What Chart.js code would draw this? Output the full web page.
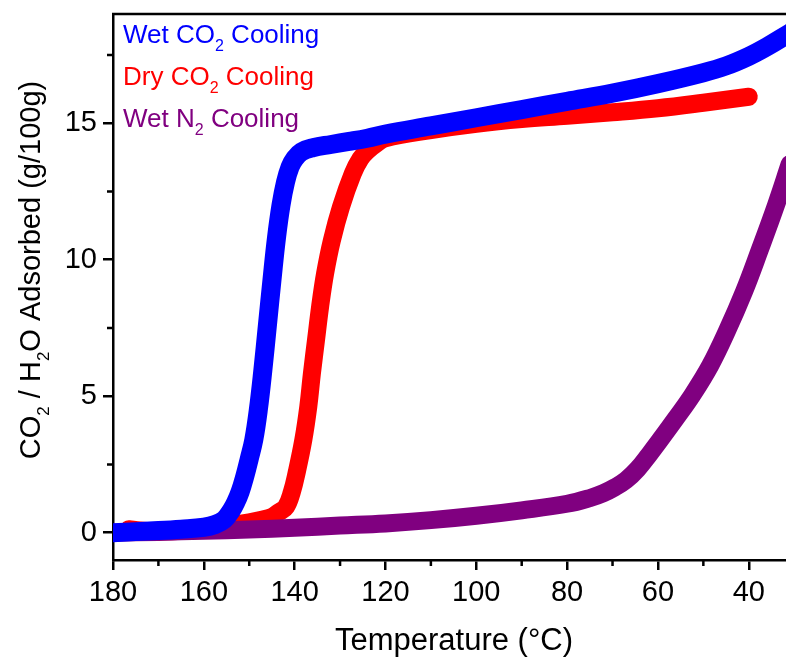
<!DOCTYPE html>
<html>
<head>
<meta charset="utf-8">
<script src="https://cdn.jsdelivr.net/npm/chart.js@4.4.1/dist/chart.umd.min.js"></script>
<style>
html, body { margin: 0; padding: 0; background: #fff; }
#wrap { width: 786px; height: 658px; position: relative; }
</style>
</head>
<body>
<div id="wrap"><canvas id="adsorb"></canvas></div>
<script>
// cooling runs, temperature (C) vs uptake (g/100g)
const wetCo2Temp = [180, 170, 165, 160, 157.5, 155.5, 154, 153, 152, 151, 150, 149, 148, 147, 146, 145, 144, 143, 142, 141, 140, 138.5, 136, 132, 128, 124, 120, 110, 100, 90, 80, 70, 60, 50, 45, 40, 36, 31];
const wetCo2Val  = [0.0, 0.08, 0.13, 0.2, 0.3, 0.48, 0.8, 1.1, 1.5, 2.05, 2.7, 3.4, 4.5, 5.95, 7.6, 9.25, 10.8, 12.0, 12.85, 13.4, 13.7, 13.95, 14.1, 14.22, 14.33, 14.45, 14.6, 14.9, 15.2, 15.5, 15.8, 16.1, 16.45, 16.85, 17.1, 17.45, 17.8, 18.3];

const dryCo2Temp = [176.5, 174, 170, 160, 155, 150, 147, 145, 143.5, 141.9, 140.6, 139.6, 138.1, 137, 136.2, 135.3, 134.4, 133.3, 131.8, 129.8, 127.2, 125.5, 123.9, 122, 120, 110, 100, 90, 80, 70, 60, 50, 40];
const dryCo2Val  = [0.13, 0.08, 0.05, 0.12, 0.25, 0.38, 0.48, 0.58, 0.75, 0.95, 1.5, 2.17, 3.39, 4.61, 5.83, 7.05, 8.27, 9.49, 10.71, 11.93, 13.15, 13.7, 14.0, 14.25, 14.45, 14.75, 14.98, 15.15, 15.27, 15.4, 15.55, 15.75, 15.97];

const wetN2Temp = [180, 170, 160, 150, 140, 130, 120, 110, 100, 90, 80, 75, 72, 69.5, 67, 64.5, 62, 59.6, 56, 52.4, 48.5, 44.9, 41, 37.6, 34, 31];
const wetN2Val  = [0.0, 0.03, 0.07, 0.12, 0.18, 0.26, 0.34, 0.46, 0.62, 0.82, 1.06, 1.27, 1.45, 1.66, 1.93, 2.33, 2.85, 3.38, 4.2, 5.05, 6.12, 7.35, 8.85, 10.35, 12.0, 13.5];

const xTicks = [180, 160, 140, 120, 100, 80, 60, 40];
const xMinor = [170, 150, 130, 110, 90, 70, 50];
const yTicks = [0, 5, 10, 15];
const yMinor = [2.5, 7.5, 12.5, 17.5];

const FONT = '"Liberation Sans", Arial, sans-serif';

function pts(t, v) {
  return t.map((x, i) => ({ x: x, y: v[i] }));
}

// draw text pieces, some as subscripts; parts = [[text, isSub], ...]
function richText(ctx, parts, x, y, size, align) {
  const subSize = Math.round(size * 0.6);
  let total = 0;
  const widths = parts.map(p => {
    ctx.font = (p[1] ? subSize : size) + 'px ' + FONT;
    const w = ctx.measureText(p[0]).width;
    total += w;
    return w;
  });
  let cx = align === 'center' ? x - total / 2 : x;
  ctx.textAlign = 'left';
  ctx.textBaseline = 'alphabetic';
  parts.forEach((p, i) => {
    ctx.font = (p[1] ? subSize : size) + 'px ' + FONT;
    ctx.fillText(p[0], cx, p[1] ? y + size * 0.3 : y);
    cx += widths[i];
  });
}

const framePlugin = {
  id: 'frame',
  afterDraw(chart) {
    const ctx = chart.ctx;
    const a = chart.chartArea;
    const xs = chart.scales.x, ys = chart.scales.y;
    ctx.save();
    ctx.strokeStyle = '#000';
    ctx.lineWidth = 2.5;
    ctx.beginPath();
    ctx.moveTo(a.left - 1, a.top);
    ctx.lineTo(a.right + 2, a.top);
    ctx.stroke();

    // minor ticks
    ctx.beginPath();
    xMinor.forEach(v => {
      const px = xs.getPixelForValue(v);
      ctx.moveTo(px, a.bottom);
      ctx.lineTo(px, a.bottom + 6);
    });
    yMinor.forEach(v => {
      const py = ys.getPixelForValue(v);
      ctx.moveTo(a.left, py);
      ctx.lineTo(a.left - 6, py);
    });
    ctx.stroke();

    // legend
    ctx.fillStyle = '#0000ff';
    richText(ctx, [['Wet CO', false], ['2', true], [' Cooling', false]], 123, 43, 26, 'left');
    ctx.fillStyle = '#ff0000';
    richText(ctx, [['Dry CO', false], ['2', true], [' Cooling', false]], 123, 85, 26, 'left');
    ctx.fillStyle = '#800080';
    richText(ctx, [['Wet N', false], ['2', true], [' Cooling', false]], 123, 127, 26, 'left');

    // axis titles
    ctx.fillStyle = '#000';
    richText(ctx, [['Temperature (\u00B0C)', false]], 454, 650, 31, 'center');
    ctx.translate(40, 270);
    ctx.rotate(-Math.PI / 2);
    richText(ctx, [['CO', false], ['2', true], [' / H', false], ['2', true], ['O Adsorbed (g/100g)', false]], 0, 0, 29, 'center');
    ctx.restore();
  }
};

const lineStyle = {
  pointRadius: 0,
  borderWidth: 18,
  borderCapStyle: 'round',
  borderJoinStyle: 'round',
  tension: 0.4,
  fill: false,
  clip: 0
};

new Chart(document.getElementById('adsorb'), {
  type: 'line',
  data: {
    datasets: [
      Object.assign({ label: 'Wet CO2 Cooling', data: pts(wetCo2Temp, wetCo2Val), borderColor: '#0000ff', order: 0 }, lineStyle, { borderWidth: 19 }),
      Object.assign({ label: 'Wet N2 Cooling', data: pts(wetN2Temp, wetN2Val), borderColor: '#800080', order: 1 }, lineStyle),
      Object.assign({ label: 'Dry CO2 Cooling', data: pts(dryCo2Temp, dryCo2Val), borderColor: '#ff0000', order: 2 }, lineStyle)
    ]
  },
  options: {
    responsive: true,
    maintainAspectRatio: false,
    animation: false,
    layout: { padding: { top: 14, right: 0, left: 0, bottom: 0 } },
    plugins: { legend: { display: false }, tooltip: { enabled: false } },
    scales: {
      x: {
        type: 'linear',
        reverse: true,
        min: 31.8,
        max: 180,
        afterBuildTicks: s => { s.ticks = xTicks.map(v => ({ value: v })); },
        afterFit: s => { s.height = 98; s.paddingLeft = 0; s.paddingRight = 0; },
        grid: { drawOnChartArea: false, tickLength: 10, lineWidth: 2.5, color: '#000' },
        border: { display: true, width: 2.5, color: '#000' },
        ticks: { color: '#000', font: { family: FONT, size: 29 }, padding: 6, maxRotation: 0 }
      },
      y: {
        type: 'linear',
        min: -1,
        max: 19,
        afterBuildTicks: s => { s.ticks = yTicks.map(v => ({ value: v })); },
        afterFit: s => { s.width = 113; s.paddingTop = 0; s.paddingBottom = 0; },
        grid: { drawOnChartArea: false, tickLength: 10, lineWidth: 2.5, color: '#000' },
        border: { display: true, width: 2.5, color: '#000' },
        ticks: { color: '#000', font: { family: FONT, size: 29 }, padding: 6 }
      }
    }
  },
  plugins: [framePlugin]
});
</script>
</body>
</html>
